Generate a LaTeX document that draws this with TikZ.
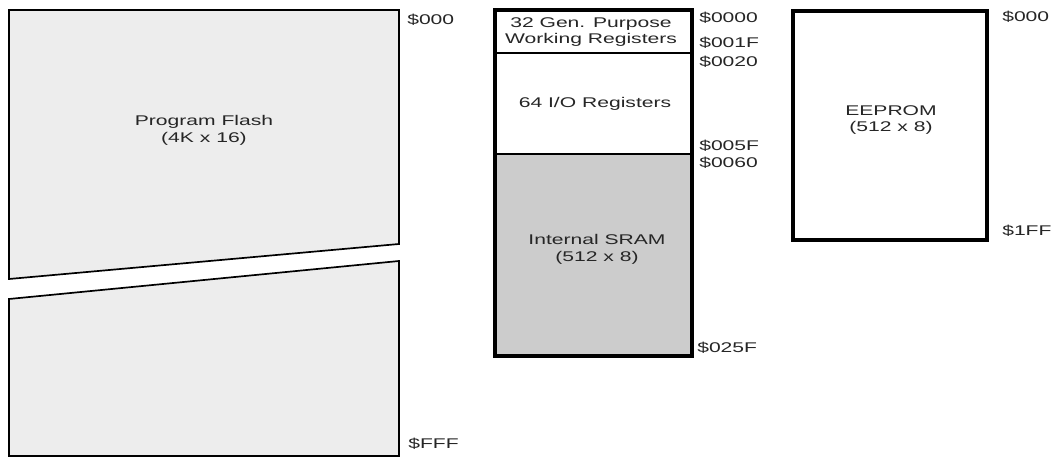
\documentclass[tikz,border=0pt]{standalone}
\usepackage{fontspec}
\newfontfamily\memfont{Liberation Sans}[FakeStretch=1.5]
\usepackage{xcolor}
\usepackage{tikz}
\definecolor{flashgray}{gray}{0.93}
\definecolor{sramgray}{gray}{0.8}

\begin{document}
\begin{tikzpicture}[x=0.025cm,y=-0.025cm,
  lbl/.style={font=\memfont\fontsize{10}{12}\selectfont,text=black!85,inner sep=0pt},
  addr/.style={lbl,anchor=west},
  block/.style={lbl,align=center}]
\useasboundingbox (0,0) rectangle (1053,457);
% program flash, broken in two
\draw[line width=1.2pt,fill=flashgray](9,10)--(399,10)--(399,244)--(9,279)--cycle
(9,299)--(399,261)--(399,456)--(9,456)--cycle;
% data memory
\fill[sramgray](495,154)rectangle(692,356);
\draw[line width=1.1pt](495,53)--(692,53)
(495,154)--(692,154);
\draw[line width=2.6pt](495,10)rectangle(692,356);
% eeprom
\draw[line width=2.8pt](793,11)rectangle(987,240);
\node[block](flash) at (204,130){Program Flash\\(4K x 16)};
\node[block](gpr) at (591,32){32 Gen. Purpose\\Working Registers};
\node[block](io) at (595,104){64 I/O Registers};
\node[block](sram) at (597,249){Internal SRAM\\(512 x 8)};
\node[block](eeprom) at (891,120){EEPROM\\(512 x 8)};
\node[addr](flashtop) at (407,20){\$000};
\node[addr](flashend) at (408,444){\$FFF};
\node[addr](gprtop) at (699,17.5){\$0000};
\node[addr](gprend) at (699,43){\$001F};
\node[addr](iotop) at (699,61.5){\$0020};
\node[addr](ioend) at (699,146){\$005F};
\node[addr](sramtop) at (699,163){\$0060};
\node[addr](sramend) at (697,347.5){\$025F};
\node[addr](eetop) at (1002,17){\$000};
\node[addr](eeend) at (1002,231){\$1FF};
\end{tikzpicture}
\end{document}
